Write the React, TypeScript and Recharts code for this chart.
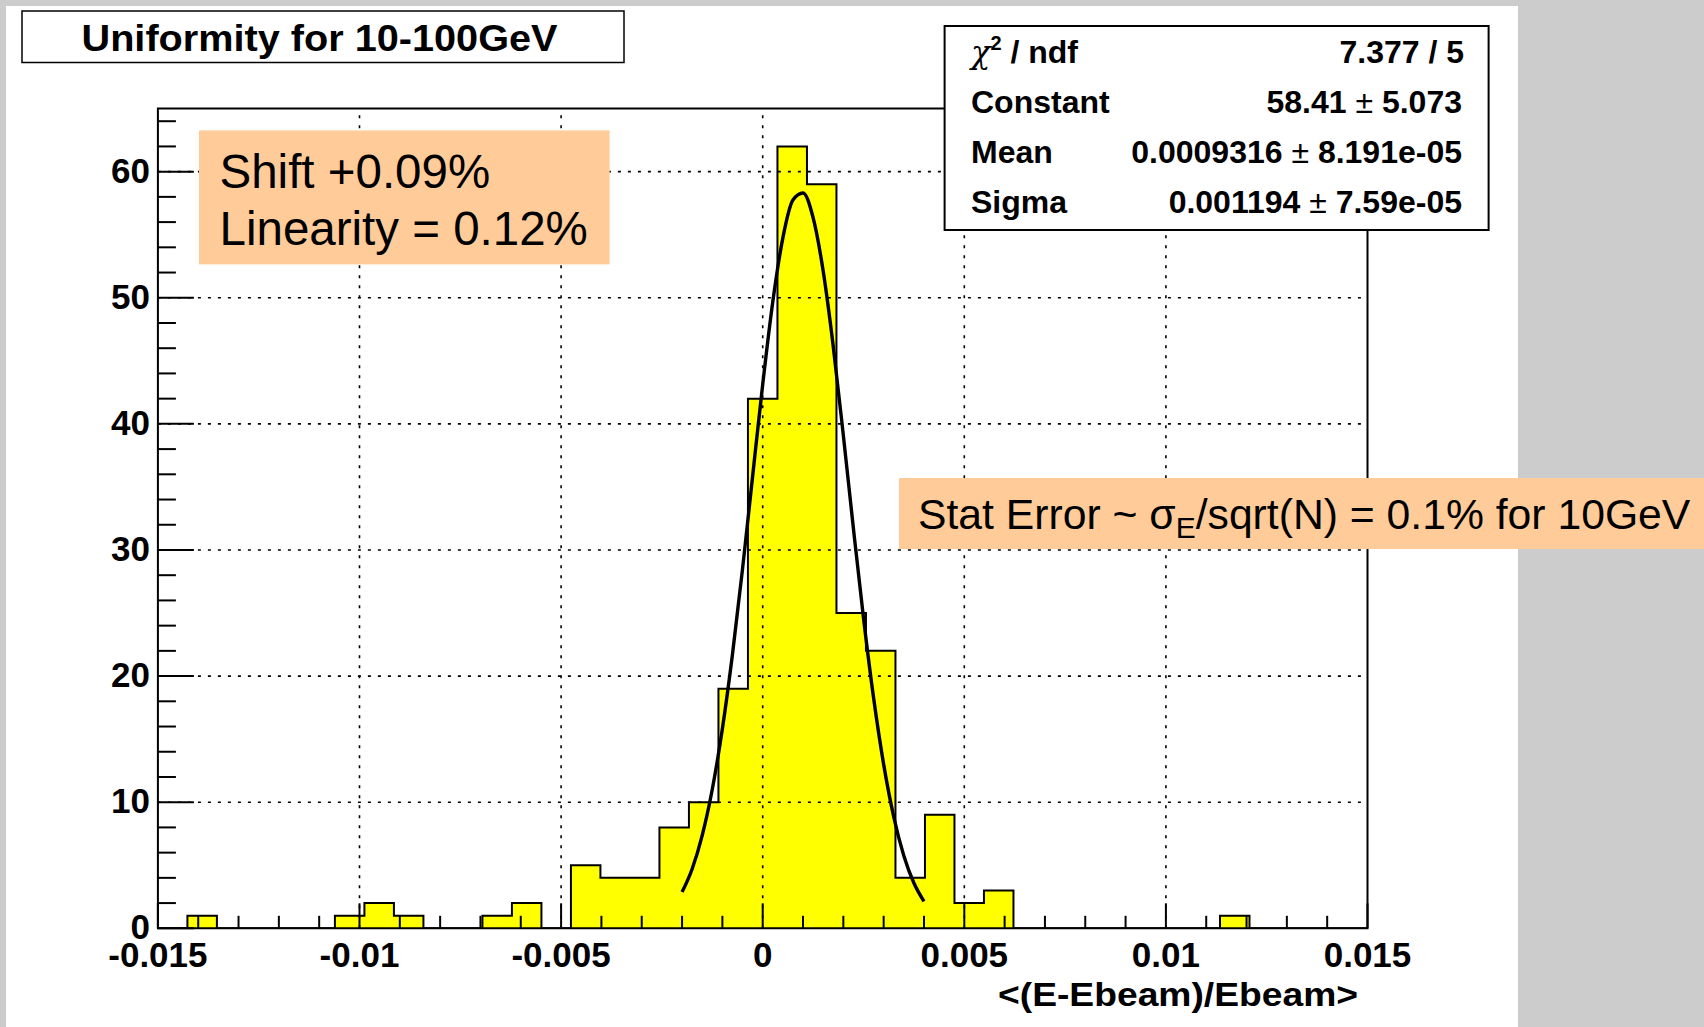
import React from 'react';
import { ComposedChart, Area, Line, XAxis, YAxis, ReferenceLine, ReferenceArea } from 'recharts';

// ---------- data ----------
const HIST_MIN = -0.015;
const HIST_MAX = 0.015;
const binCounts = [
  0, 1, 0, 0, 0, 0, 1, 2, 1, 0, 0, 1, 2, 0, 5, 4, 4, 8, 10, 19, 42,
  62, 59, 25, 22, 4, 9, 2, 3, 0, 0, 0, 0, 0, 0, 0, 1, 0, 0, 0, 0,
];

const fitX = [
  -0.002, -0.00175, -0.0015, -0.00125, -0.001, -0.00075, -0.0005, -0.00025, 0,
  0.00025, 0.0005, 0.00075, 0.001, 0.00125, 0.0015, 0.00175, 0.002, 0.00225,
  0.0025, 0.00275, 0.003, 0.00325, 0.0035, 0.00375, 0.004,
];
const fitY = [
  2.87, 4.7, 7.37, 11.03, 15.82, 21.71, 28.5, 35.85, 43.12, 49.68, 54.75, 57.75,
  58.31, 56.35, 52.12, 46.14, 39.09, 31.7, 24.61, 18.28, 13.0, 8.84, 5.76, 3.59, 2.14,
];

const xTicks = [
  -0.015, -0.014, -0.013, -0.012, -0.011, -0.01, -0.009, -0.008, -0.007, -0.006,
  -0.005, -0.004, -0.003, -0.002, -0.001, 0, 0.001, 0.002, 0.003, 0.004, 0.005,
  0.006, 0.007, 0.008, 0.009, 0.01, 0.011, 0.012, 0.013, 0.014, 0.015,
];
const xMajorTicks = [-0.015, -0.01, -0.005, 0, 0.005, 0.01, 0.015];
const xMajorLabels = ['-0.015', '-0.01', '-0.005', '0', '0.005', '0.01', '0.015'];

const yTicks = [
  0, 2, 4, 6, 8, 10, 12, 14, 16, 18, 20, 22, 24, 26, 28, 30, 32, 34, 36, 38, 40,
  42, 44, 46, 48, 50, 52, 54, 56, 58, 60, 62, 64,
];
const yMajorTicks = [0, 10, 20, 30, 40, 50, 60];
const yMajorLabels = ['0', '10', '20', '30', '40', '50', '60'];

const xGrid = [-0.01, -0.005, 0, 0.005, 0.01];
const yGrid = [10, 20, 30, 40, 50, 60];

const Y_MAX = 65;

// ---------- derived tables ----------
const BIN_W = (HIST_MAX - HIST_MIN) / binCounts.length;
const histData = [
  ...binCounts.map((n, i) => ({ x: HIST_MIN + i * BIN_W, n })),
  { x: HIST_MAX, n: 0 },
];
const fitData = fitX.map((x, i) => ({ x, y: fitY[i] }));

const FONT = '"Liberation Sans", Arial, Helvetica, sans-serif';

const findIdx = (arr: number[], v: number) => arr.findIndex((m) => Math.abs(m - v) < 1e-9);

const XTick = (props: any) => {
  const { x, y, payload } = props;
  const idx = findIdx(xMajorTicks, payload.value);
  const len = idx >= 0 ? 25 : 12.5;
  return (
    <g>
      <line x1={x} x2={x} y1={y} y2={y - len} stroke="#000" strokeWidth={2} />
      {idx >= 0 && (
        <text x={x} y={y + 39} textAnchor="middle" fontFamily={FONT} fontWeight="bold" fontSize={35} fill="#000">
          {xMajorLabels[idx]}
        </text>
      )}
    </g>
  );
};

const YTick = (props: any) => {
  const { x, y, payload } = props;
  const idx = findIdx(yMajorTicks, payload.value);
  const len = idx >= 0 ? 36 : 18;
  return (
    <g>
      <line x1={x} x2={x + len} y1={y} y2={y} stroke="#000" strokeWidth={2} />
      {idx >= 0 && (
        <text x={x - 8} y={y + 11} textAnchor="end" fontFamily={FONT} fontWeight="bold" fontSize={35} fill="#000">
          {yMajorLabels[idx]}
        </text>
      )}
    </g>
  );
};

export default function App() {
  return (
    <div style={{ position: 'absolute', left: 0, top: 0, width: 1704, height: 1027, background: '#cccccc', overflow: 'hidden' }}>
      <div style={{ position: 'absolute', left: 6, top: 6, width: 1512, height: 1021, background: '#ffffff' }} />
      <div style={{ position: 'absolute', left: 0, top: 0 }}>
        <ComposedChart
          width={1704}
          height={1027}
          margin={{ top: 108.6, right: 336.5, bottom: 38.7, left: 97.9 }}
        >
          <XAxis
            dataKey="x"
            type="number"
            domain={[HIST_MIN, HIST_MAX]}
            ticks={xTicks}
            interval={0}
            allowDataOverflow
            height={60}
            axisLine={false}
            tickLine={false}
            tickSize={0}
            tickMargin={0}
            tick={<XTick />}
          />
          <YAxis
            type="number"
            domain={[0, Y_MAX]}
            ticks={yTicks}
            interval={0}
            allowDataOverflow
            width={60}
            axisLine={false}
            tickLine={false}
            tickSize={0}
            tickMargin={0}
            tick={<YTick />}
          />
          <Area
            data={histData}
            dataKey="n"
            type="stepAfter"
            stroke="#000"
            strokeWidth={2}
            fill="#ffff00"
            fillOpacity={1}
            dot={false}
            activeDot={false}
            isAnimationActive={false}
          />
          {xGrid.map((v) => (
            <ReferenceLine key={'gx' + v} x={v} stroke="#000" strokeWidth={1.6} strokeDasharray="3 7" />
          ))}
          {yGrid.map((v) => (
            <ReferenceLine key={'gy' + v} y={v} stroke="#000" strokeWidth={1.6} strokeDasharray="3 7" />
          ))}
          <Line
            data={fitData}
            dataKey="y"
            type="monotone"
            stroke="#000"
            strokeWidth={3.4}
            dot={false}
            activeDot={false}
            isAnimationActive={false}
          />
          <ReferenceArea
            x1={HIST_MIN}
            x2={HIST_MAX}
            y1={0}
            y2={Y_MAX}
            fill="none"
            fillOpacity={0}
            stroke="#000"
            strokeWidth={2}
          />
        </ComposedChart>
      </div>
      <svg
        width={1704}
        height={1027}
        style={{ position: 'absolute', left: 0, top: 0, pointerEvents: 'none' }}
        fontFamily={FONT}
      >
        {/* title box */}
        <rect x={22} y={11} width={602} height={51.5} fill="#fff" stroke="#000" strokeWidth={1.5} />
        <text x={81.5} y={51} fontSize={37} fontWeight="bold" textLength={476} lengthAdjust="spacingAndGlyphs">
          Uniformity for 10-100GeV
        </text>

        {/* x axis title */}
        <text x={998} y={1006} fontSize={33} fontWeight="bold" textLength={360} lengthAdjust="spacingAndGlyphs">
          {'<(E-Ebeam)/Ebeam>'}
        </text>

        {/* stats box */}
        <rect x={944.6} y={26} width={544} height={204} fill="#fff" stroke="#000" strokeWidth={2} />
        <text x={971} y={63} fontSize={32} fontWeight="bold">
          <tspan fontWeight="normal" fontFamily='"DejaVu Serif", serif' fontStyle="italic">χ</tspan>
          <tspan fontSize={20} dy={-13}>2</tspan>
          <tspan dy={13}> / ndf</tspan>
        </text>
        <text x={1464} y={63} fontSize={32} fontWeight="bold" textAnchor="end">7.377 / 5</text>
        <text x={971} y={113} fontSize={32} fontWeight="bold">Constant</text>
        <text x={1462} y={113} fontSize={32} fontWeight="bold" textAnchor="end">
          58.41 <tspan fontWeight="normal">±</tspan> 5.073
        </text>
        <text x={971} y={163} fontSize={32} fontWeight="bold">Mean</text>
        <text x={1462} y={163} fontSize={32} fontWeight="bold" textAnchor="end">
          0.0009316 <tspan fontWeight="normal">±</tspan> 8.191e-05
        </text>
        <text x={971} y={213} fontSize={32} fontWeight="bold">Sigma</text>
        <text x={1462} y={213} fontSize={32} fontWeight="bold" textAnchor="end">
          0.001194 <tspan fontWeight="normal">±</tspan> 7.59e-05
        </text>

        {/* shift box */}
        <rect x={199} y={130.4} width={410.6} height={134} fill="#ffcc99" />
        <text x={219.5} y={188} fontSize={47.5}>Shift +0.09%</text>
        <text x={219.5} y={245} fontSize={47.5}>Linearity = 0.12%</text>

        {/* stat error box */}
        <rect x={899} y={478} width={805} height={71} fill="#ffcc99" />
        <text x={918} y={529} fontSize={42.7}>
          Stat Error ~ σ<tspan fontSize={30} dy={9}>E</tspan>
          <tspan dy={-9}>/sqrt(N) = 0.1% for 10GeV</tspan>
        </text>
      </svg>
    </div>
  );
}
